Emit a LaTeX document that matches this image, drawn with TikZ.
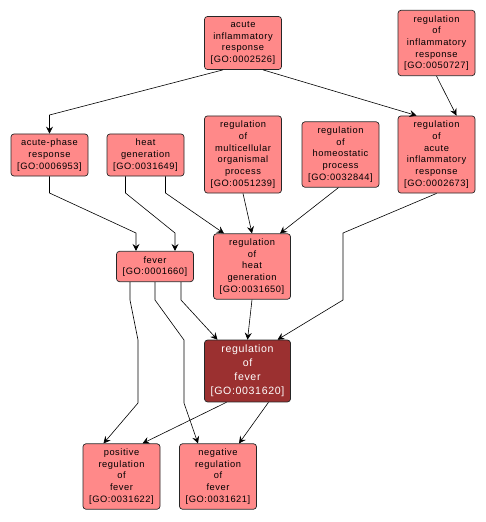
\documentclass[tikz,border=0pt]{standalone}
\usepackage{fontspec}
\setmainfont{Liberation Sans}[LetterSpace=6]
\usetikzlibrary{arrows.meta}
\definecolor{termfill}{RGB}{255,137,137}
\definecolor{hitfill}{RGB}{155,48,48}
\tikzset{
  term/.style={draw=black!85, line width=0.7pt, fill=termfill, rounded corners=3pt,
    align=center, minimum width=77pt, inner xsep=2pt, inner ysep=5pt,
    font=\fontsize{9.3}{11.7}\selectfont},
  hit/.style={term, fill=hitfill, text=white, minimum width=86pt,
    font=\fontsize{10.6}{14}\selectfont},
  edge/.style={-{Stealth[length=7pt,width=7pt,inset=2.5pt]}, line width=0.6pt}
}
\begin{document}
\begin{tikzpicture}[x=1pt,y=-1pt]
\useasboundingbox (0,0) rectangle (486,522);
% top row
\node at (243,43) [term] (air) {acute\\inflammatory\\response\\{[GO:0002526]}};
\node at (436.5,43) [term] (rir) {regulation\\of\\inflammatory\\response\\{[GO:0050727]}};
% second row
\node at (49.5,155) [term] (acp) {acute-phase\\response\\{[GO:0006953]}};
\node at (145.5,155) [term] (hg) {heat\\generation\\{[GO:0031649]}};
\node at (243,154.5) [term] (rmop) {regulation\\of\\multicellular\\organismal\\process\\{[GO:0051239]}};
\node at (340.5,154.5) [term] (rhp) {regulation\\of\\homeostatic\\process\\{[GO:0032844]}};
\node at (436.5,154.5) [term] (raci) {regulation\\of\\acute\\inflammatory\\response\\{[GO:0002673]}};
% third row
\node at (155,266.5) [term] (fev) {fever\\{[GO:0001660]}};
\node at (252,266.5) [term] (rhg) {regulation\\of\\heat\\generation\\{[GO:0031650]}};
% query term
\node at (247.5,371) [hit] (rfev) {regulation\\of\\fever\\{[GO:0031620]}};
% bottom row
\node at (121.5,476.5) [term] (prf) {positive\\regulation\\of\\fever\\{[GO:0031622]}};
\node at (218,476.5) [term] (nrf) {negative\\regulation\\of\\fever\\{[GO:0031621]}};
% edges
\draw[edge] ([xshift=-20pt]air.south) -- (49.5,115) -- (acp.north);
\draw[edge] ([xshift=20pt]air.south) -- ([xshift=-20pt]raci.north);
\draw[edge] (rir.south) -- ([xshift=20pt]raci.north);
\draw[edge] (acp.south) -- (49.5,193) -- (136,233) -- ([xshift=-19pt]fev.north);
\draw[edge] ([xshift=-20pt]hg.south) -- (125.5,193) -- (175,233) -- ([xshift=20pt]fev.north);
\draw[edge] ([xshift=20pt]hg.south) -- (165.5,193) -- ([xshift=-28pt]rhg.north);
\draw[edge] (rmop.south) -- (rhg.north);
\draw[edge] ([xshift=-2pt]rhp.south) -- ([xshift=28pt]rhg.north);
\draw[edge] (raci.south) -- (343,233) -- (343,300) -- ([xshift=30pt]rfev.north);
\draw[edge] (rhg.south) -- (rfev.north);
\draw[edge] ([xshift=26pt]fev.south) -- (181,300) -- ([xshift=-30pt]rfev.north);
\draw[edge] ([xshift=-25pt]fev.south) -- (130,300) -- (138,340) -- (138,403) -- ([xshift=-18pt]prf.north);
\draw[edge] (fev.south) -- (155,300) -- (184,340) -- (184,403) -- ([xshift=-20pt]nrf.north);
\draw[edge] ([xshift=-21pt]rfev.south) -- ([xshift=21pt]prf.north);
\draw[edge] ([xshift=21pt]rfev.south) -- ([xshift=21pt]nrf.north);
\end{tikzpicture}
\end{document}
